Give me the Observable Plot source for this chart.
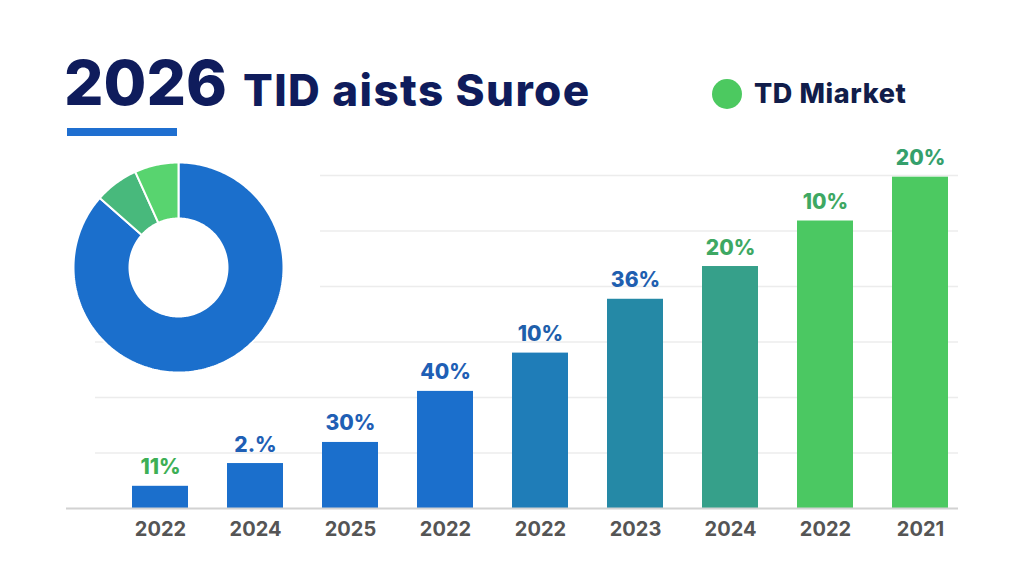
<!DOCTYPE html>
<html>
<head>
<meta charset="utf-8">
<script src="https://cdn.jsdelivr.net/npm/d3@7"></script>
<script src="https://cdn.jsdelivr.net/npm/@observablehq/plot@0.6"></script>
<style>
  html, body { margin: 0; padding: 0; background: #ffffff; }
  #wrap { position: relative; width: 1024px; height: 585px; overflow: hidden; font-family: Inter, "Open Sans", sans-serif; }
  #bars, #donut { position: absolute; left: 0; top: 0; }
  #donut { left: 70.5px; top: 160px; }
  .t1 { position: absolute; left: 64px; top: 52px; font-size: 62px; font-weight: 800; color: #0f1c5c; letter-spacing: 0px; line-height: 1; white-space: nowrap; }
  .t2 { position: absolute; left: 243px; top: 68px; font-size: 44px; font-weight: 800; color: #0f1c5c; line-height: 1; white-space: nowrap; letter-spacing: 1.4px; }
  .uline { position: absolute; left: 67px; top: 128px; width: 110px; height: 8px; background: #1f6fd0; }
  .leg { position: absolute; left: 712px; top: 77px; display: flex; align-items: center; white-space: nowrap; }
  .leg .dot { width: 30px; height: 30px; border-radius: 50%; background: #4cc960; margin-right: 12px; }
  .leg .lt { font-size: 27px; font-weight: 800; color: #111d4a; letter-spacing: 0.6px; }
</style>
</head>
<body>
<div id="wrap">
  <div id="bars"></div>
  <div id="donut"></div>
  <div class="t1">2026</div>
  <div class="t2">TlD aists Suroe</div>
  <div class="uline"></div>
  <div class="leg"><div class="dot"></div><div class="lt">TD Miarket</div></div>
</div>
<script>
// ---- data ----
const years = ["2022", "2024", "2025", "2022", "2022", "2023", "2024", "2022", "2021"];
const barValues = [4.0, 8.1, 11.9, 21.1, 28.0, 37.7, 43.6, 51.8, 59.7];
const barLabels = ["11%", "2.%", "30%", "40%", "10%", "36%", "20%", "10%", "20%"];
const barColors = ["#1b6fcc", "#1b6fcc", "#1b6fcc", "#1b6fcc", "#1f7db8", "#2589a6", "#36a08a", "#4bc862", "#4cc961"];
const labelColors = ["#3daf55", "#1f5fb5", "#1f5fb5", "#1f5fb5", "#1f5fab", "#1f5fb0", "#3ea863", "#3ea863", "#35a06c"];
const gridLow = [10, 20, 30];
const gridHigh = [40, 50, 60];

const donutNames = ["Blue", "Teal green", "Green"];
const donutValues = [86.5, 6.75, 6.75];
const donutColors = ["#1b6fcc", "#48b97c", "#58d46f"];

// ---- bar chart ----
const rows = years.map((y, i) => ({i, year: y, value: barValues[i], label: barLabels[i], color: barColors[i], lc: labelColors[i]}));

const bars = Plot.plot({
  width: 1024,
  height: 585,
  marginLeft: 90,
  marginRight: 34,
  marginTop: 175,
  marginBottom: 77,
  style: {fontFamily: "Inter, 'Open Sans', sans-serif", background: "transparent", overflow: "visible"},
  x: {type: "band", domain: rows.map(d => d.i), padding: 0.413, label: null},
  y: {domain: [0, 60], axis: null},
  marks: [
    Plot.ruleY(gridLow, {stroke: "#ececec", strokeWidth: 1.5, insetLeft: 5, insetRight: 32}),
    Plot.ruleY(gridHigh, {stroke: "#ececec", strokeWidth: 1.5, insetLeft: 230, insetRight: 32}),
    Plot.barY(rows, {x: "i", y: "value", fill: d => d.color}),
    Plot.ruleY([0], {stroke: "#d2d2d2", strokeWidth: 2, insetLeft: -24, insetRight: 32}),
    Plot.text(rows, {x: "i", y: "value", text: "label", fill: d => d.lc, dy: -12, lineAnchor: "bottom", fontSize: 21, fontWeight: 800}),
    Plot.axisX({tickSize: 0, tickPadding: 13, tickFormat: i => years[i], fontSize: 20, fontWeight: 700, fill: "#555555", label: null})
  ]
});
document.getElementById("bars").appendChild(bars);

// ---- donut ----
const R = 105, r0 = 49;
const pie = d3.pie().sort(null).value(d => d.value)(donutNames.map((n, k) => ({name: n, value: donutValues[k], color: donutColors[k]})));
const pts = [];
for (const s of pie) {
  const n = Math.max(4, Math.ceil((s.endAngle - s.startAngle) / 0.02));
  const poly = [];
  for (let j = 0; j <= n; j++) {
    const a = s.startAngle + (s.endAngle - s.startAngle) * j / n;
    poly.push({x: R * Math.sin(a), y: R * Math.cos(a)});
  }
  for (let j = n; j >= 0; j--) {
    const a = s.startAngle + (s.endAngle - s.startAngle) * j / n;
    poly.push({x: r0 * Math.sin(a), y: r0 * Math.cos(a)});
  }
  poly.push(poly[0]);
  for (const p of poly) pts.push({...p, name: s.data.name, color: s.data.color});
}
const donut = Plot.plot({
  width: 214,
  height: 214,
  margin: 0,
  x: {domain: [-107, 107], axis: null},
  y: {domain: [-107, 107], axis: null},
  style: {background: "transparent", overflow: "visible"},
  marks: [
    Plot.line(pts, {x: "x", y: "y", z: "name", fill: d => d.color, stroke: "#ffffff", strokeWidth: 2, strokeLinejoin: "miter"})
  ]
});
document.getElementById("donut").appendChild(donut);
</script>
</body>
</html>
